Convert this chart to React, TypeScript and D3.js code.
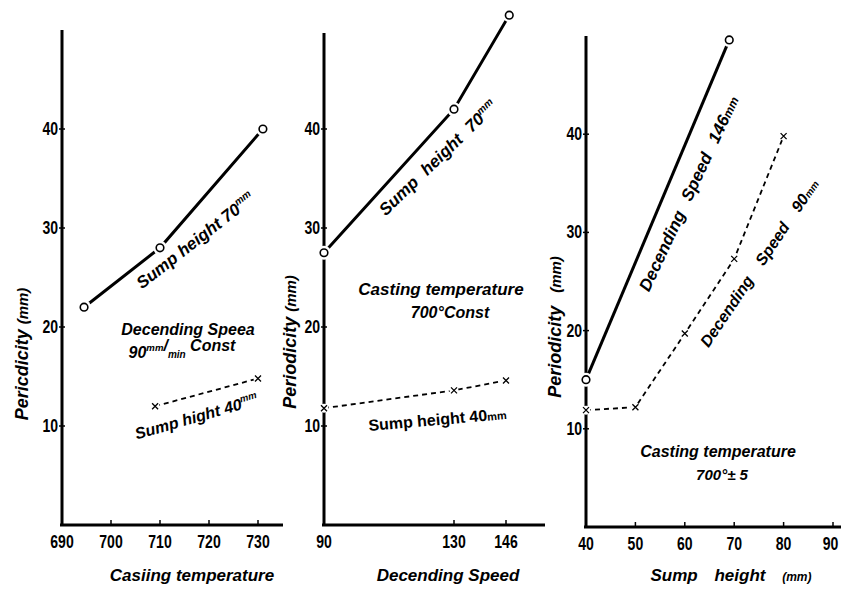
import React from "react";
import * as d3 from "d3";

// tick labels
const tempTicks = [690, 700, 710, 720, 730];
const speedTicks = [90, 130, 146];
const sumpTicks = [40, 50, 60, 70, 80, 90];
const yTicks = [10, 20, 30, 40];

// panel 1 : casting temperature
const tempSolidX = [694.5, 710, 731];
const tempSolidY = [22, 28, 40];
const tempDashX = [709, 730];
const tempDashY = [12, 14.8];

// panel 2 : descending speed
const speedSolidX = [90, 130, 147];
const speedSolidY = [27.5, 42, 51.5];
const speedDashX = [90, 130, 146];
const speedDashY = [11.8, 13.6, 14.6];

// panel 3 : sump height
const sumpSolidX = [40, 69];
const sumpSolidY = [15, 49.6];
const sumpDashX = [40, 50, 60, 70, 80];
const sumpDashY = [11.9, 12.2, 19.7, 27.3, 39.8];

const HAND = "'Liberation Sans', Arial, sans-serif";
const W = 841;

type Pt = [number, number];
const zip = (xs: number[], ys: number[]): Pt[] => xs.map((x, i) => [x, ys[i]]);

// narrow bold numbers, squeezed horizontally like the hand lettering
const Num = ({ x, y, anchor, children }: any) => {
  const s = String(children);
  const half = s.length * 4.2;
  // keep the last label inside the page
  const cx = anchor === "middle" ? Math.min(x, W - 2 - half) : x;
  return (
    <text
      transform={`translate(${cx},${y}) scale(0.78,1)`}
      textAnchor={anchor}
      fontFamily={HAND}
      fontWeight="bold"
      fontSize={18}
    >
      {s}
    </text>
  );
};

const Panel = ({ x, y, xTicks, xAxisEnd, yTop, solid, dashed }: any) => {
  const line = d3.line<Pt>().x((d) => x(d[0])).y((d) => y(d[1]));
  const x0 = x.range()[0];
  const y0 = y(0);
  return (
    <g>
      {/* axes */}
      <line x1={x0} x2={x0} y1={yTop} y2={y0} stroke="#000" strokeWidth={3} />
      <line x1={x0 - 2} x2={xAxisEnd} y1={y0} y2={y0} stroke="#000" strokeWidth={3} />
      {yTicks.map((t) => (
        <g key={"y" + t}>
          <line x1={x0 - 3} x2={x0 + 3} y1={y(t)} y2={y(t)} stroke="#000" strokeWidth={1.5} />
          <Num x={x0 - 4} y={y(t) + 6} anchor="end">{t}</Num>
        </g>
      ))}
      {xTicks.map((t: number) => (
        <g key={"x" + t}>
          <line x1={x(t)} x2={x(t)} y1={y0 - 5} y2={y0} stroke="#000" strokeWidth={1.5} />
          <Num x={x(t)} y={y0 + 23} anchor="middle">{t}</Num>
        </g>
      ))}
      {/* series */}
      <path d={line(solid) || ""} fill="none" stroke="#000" strokeWidth={3} />
      <path d={line(dashed) || ""} fill="none" stroke="#000" strokeWidth={1.8} strokeDasharray="5,4" />
      {solid.map((d: Pt, i: number) => (
        <g key={"c" + i}>
          <circle cx={x(d[0])} cy={y(d[1])} r={7} fill="#fff" />
          <circle cx={x(d[0])} cy={y(d[1])} r={3.8} fill="#fff" stroke="#000" strokeWidth={1.6} />
        </g>
      ))}
      {dashed.map((d: Pt, i: number) => {
        const cx = x(d[0]);
        const cy = y(d[1]);
        return (
          <g key={"m" + i}>
            <circle cx={cx} cy={cy} r={4.5} fill="#fff" />
            <path d={`M${cx - 3},${cy - 3}L${cx + 3},${cy + 3}M${cx - 3},${cy + 3}L${cx + 3},${cy - 3}`} stroke="#000" strokeWidth={1.3} />
          </g>
        );
      })}
    </g>
  );
};

const Note = ({ x, y, r = 0, size = 16, italic = true, ws = 0, children }: any) => (
  <text
    x={x}
    y={y}
    transform={r ? `rotate(${r},${x},${y})` : undefined}
    textAnchor="middle"
    fontFamily={HAND}
    fontStyle={italic ? "italic" : "normal"}
    fontWeight="bold"
    fontSize={size}
    wordSpacing={ws}
  >
    {children}
  </text>
);

const Sup = ({ children }: any) => (
  <tspan fontSize="0.6em" dy={-7}>
    {children}
  </tspan>
);

export default function App() {
  const x1 = d3.scaleLinear().domain([690, 730]).range([62, 258]);
  const y1 = d3.scaleLinear().domain([0, 50]).range([525, 30]);
  const x2 = d3.scaleLinear().domain([90, 146]).range([324, 506]);
  const y2 = d3.scaleLinear().domain([0, 50]).range([525, 30]);
  const x3 = d3.scaleLinear().domain([40, 90]).range([586, 833]);
  const y3 = d3.scaleLinear().domain([0, 50]).range([527, 36]);

  return (
    <svg
      width={W}
      height={589}
      style={{ position: "absolute", left: 0, top: 0, background: "#fff" }}
    >
      <Panel x={x1} y={y1} xTicks={tempTicks} xAxisEnd={283} yTop={30}
        solid={zip(tempSolidX, tempSolidY)} dashed={zip(tempDashX, tempDashY)} />
      <Panel x={x2} y={y2} xTicks={speedTicks} xAxisEnd={545} yTop={33}
        solid={zip(speedSolidX, speedSolidY)} dashed={zip(speedDashX, speedDashY)} />
      <Panel x={x3} y={y3} xTicks={sumpTicks} xAxisEnd={W} yTop={36}
        solid={zip(sumpSolidX, sumpSolidY)} dashed={zip(sumpDashX, sumpDashY)} />

      {/* y axis titles */}
      <Note x={28} y={354} r={-90} size={18}>Pericdicity <tspan fontSize={15}>(mm)</tspan></Note>
      <Note x={296} y={342} r={-90} size={18}>Periodicity <tspan fontSize={15}>(mm)</tspan></Note>
      <Note x={561} y={327} r={-90} size={18} ws={8}>Periodicity <tspan fontSize={15}>(mm)</tspan></Note>

      {/* x axis titles */}
      <Note x={192} y={581} size={17}>Casiing temperature</Note>
      <Note x={448} y={581} size={17}>Decending Speed</Note>
      <Note x={731} y={581} size={17} ws={12}>Sump height <tspan fontSize={12}>(mm)</tspan></Note>

      {/* panel 1 notes */}
      <Note x={199} y={245} r={-38} size={17}>Sump height 70<Sup>mm</Sup></Note>
      <Note x={188} y={335} size={16}>Decending Speea</Note>
      <Note x={182} y={358} size={16}>90<Sup>mm</Sup>/<tspan fontSize={10} dy={7}>min</tspan><tspan dy={-7}> Const</tspan></Note>
      <Note x={198} y={422} r={-16} size={16}>Sump hight 40<Sup>mm</Sup></Note>

      {/* panel 2 notes */}
      <Note x={442} y={162} r={-44} size={17} ws={6}>Sump height  70<Sup>mm</Sup></Note>
      <Note x={441} y={295} size={17}>Casting temperature</Note>
      <Note x={450} y={318} size={16}>700°Const</Note>
      <Note x={438} y={425} r={-5} size={16} italic={false}>Sump height 40<tspan fontSize={11}>mm</tspan></Note>

      {/* panel 3 notes */}
      <Note x={694} y={196} r={-65} size={17} ws={8}>Decending Speed 146<tspan fontSize={12}>mm</tspan></Note>
      <Note x={764} y={266} r={-56} size={16} ws={12}>Decending Speed 90<tspan fontSize={10}>mm</tspan></Note>
      <Note x={718} y={457} size={16}>Casting temperature</Note>
      <Note x={722} y={480} size={15}>700°± 5</Note>
    </svg>
  );
}
